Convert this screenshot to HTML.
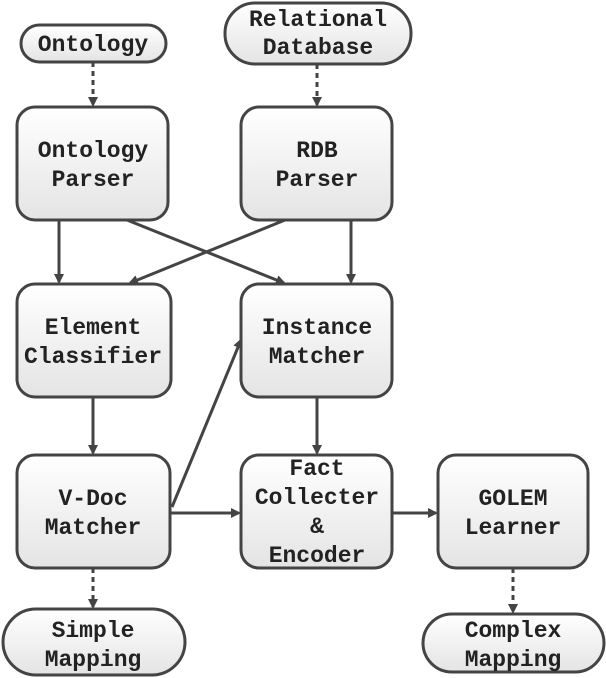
<!DOCTYPE html>
<html><head><meta charset="utf-8"><style>
html,body{margin:0;padding:0;background:#fff;}
svg{display:block;}
text{font-family:"Liberation Mono",monospace;font-weight:bold;font-size:23px;fill:#222;text-anchor:middle;}
</style></head><body>
<svg width="606" height="678" viewBox="0 0 606 678" xmlns="http://www.w3.org/2000/svg">
<defs>
<linearGradient id="g" x1="0" y1="0" x2="0" y2="1"><stop offset="0" stop-color="#ffffff"/><stop offset="1" stop-color="#e4e4e4"/></linearGradient>
<marker id="a" markerWidth="10" markerHeight="10" refX="8" refY="5" orient="auto" markerUnits="userSpaceOnUse"><path d="M0,0 L10,5 L0,10 z" fill="#444"/></marker>
</defs>
<g stroke="#444" stroke-width="3" fill="none">
<line x1="93" y1="62" x2="93" y2="105" stroke-dasharray="5,4" marker-end="url(#a)"/>
<line x1="317" y1="64" x2="317" y2="105" stroke-dasharray="5,4" marker-end="url(#a)"/>
<line x1="59" y1="220" x2="59" y2="282" marker-end="url(#a)"/>
<line x1="127" y1="220" x2="284" y2="283" marker-end="url(#a)"/>
<line x1="285" y1="220" x2="130" y2="283" marker-end="url(#a)"/>
<line x1="351" y1="220" x2="351" y2="282" marker-end="url(#a)"/>
<line x1="93" y1="397" x2="93" y2="453" marker-end="url(#a)"/>
<line x1="317" y1="397" x2="317" y2="453" marker-end="url(#a)"/>
<line x1="172" y1="507" x2="241" y2="340" marker-end="url(#a)"/>
<line x1="170" y1="513" x2="239" y2="513" marker-end="url(#a)"/>
<line x1="392" y1="513" x2="436" y2="513" marker-end="url(#a)"/>
<line x1="93" y1="568" x2="93" y2="607" stroke-dasharray="5,4" marker-end="url(#a)"/>
<line x1="513" y1="568" x2="513" y2="612" stroke-dasharray="5,4" marker-end="url(#a)"/>
</g>
<g stroke="#444" stroke-width="3" fill="url(#g)">
<rect x="21" y="25" width="145" height="37" rx="18.5"/>
<rect x="225" y="3" width="186" height="61" rx="30"/>
<rect x="17" y="107" width="151" height="113" rx="18"/>
<rect x="241" y="107" width="151" height="113" rx="18"/>
<rect x="17" y="284" width="154" height="113" rx="18"/>
<rect x="241" y="284" width="151" height="113" rx="18"/>
<rect x="17" y="455" width="153" height="113" rx="18"/>
<rect x="241" y="455" width="151" height="113" rx="18"/>
<rect x="438" y="455" width="150" height="113" rx="18"/>
<rect x="3" y="609" width="182" height="66" rx="33"/>
<rect x="423" y="614" width="181" height="58" rx="29"/>
</g>
<text x="93" y="51">Ontology</text>
<text x="318" y="26">Relational</text>
<text x="318" y="54">Database</text>
<text x="93" y="157">Ontology</text>
<text x="93" y="186">Parser</text>
<text x="317" y="157">RDB</text>
<text x="317" y="186">Parser</text>
<text x="93" y="334">Element</text>
<text x="93" y="363">Classifier</text>
<text x="317" y="334">Instance</text>
<text x="317" y="363">Matcher</text>
<text x="93" y="505">V-Doc</text>
<text x="93" y="534">Matcher</text>
<text x="317" y="475">Fact</text>
<text x="317" y="504">Collecter</text>
<text x="317" y="533">&amp;</text>
<text x="317" y="562">Encoder</text>
<text x="513" y="505">GOLEM</text>
<text x="513" y="534">Learner</text>
<text x="93" y="637">Simple</text>
<text x="93" y="666">Mapping</text>
<text x="513" y="637">Complex</text>
<text x="513" y="666">Mapping</text>
</svg>
</body></html>
